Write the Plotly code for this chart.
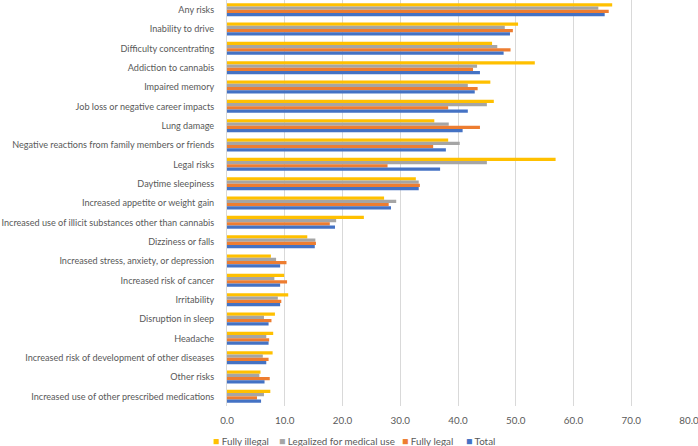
import plotly.graph_objects as go

categories = [
    "Any risks", "Inability to drive", "Difficulty concentrating", "Addiction to cannabis",
    "Impaired memory", "Job loss or negative career impacts", "Lung damage",
    "Negative reactions from family members or friends", "Legal risks", "Daytime sleepiness",
    "Increased appetite or weight gain", "Increased use of illicit substances other than cannabis",
    "Dizziness or falls", "Increased stress, anxiety, or depression", "Increased risk of cancer",
    "Irritability", "Disruption in sleep", "Headache",
    "Increased risk of development of other diseases", "Other risks",
    "Increased use of other prescribed medications",
]
fully_illegal = [66.7, 50.4, 45.9, 53.3, 45.6, 46.2, 35.9, 38.3, 56.9, 32.7, 27.2, 23.7, 13.9, 7.6, 9.9, 10.6, 8.3, 8.0, 7.9, 5.8, 7.5]
medical_use = [64.3, 48.1, 46.8, 43.3, 41.7, 45.0, 38.4, 40.3, 45.0, 33.2, 29.3, 18.9, 15.3, 8.5, 8.2, 8.8, 6.4, 6.8, 6.2, 5.6, 6.4]
fully_legal = [66.1, 49.5, 49.1, 42.6, 43.4, 38.3, 43.8, 35.7, 27.8, 33.4, 28.0, 17.8, 15.4, 10.3, 10.4, 9.4, 7.7, 7.3, 7.2, 7.4, 5.2]
total = [65.4, 49.0, 47.9, 43.8, 42.9, 41.7, 40.8, 37.9, 36.9, 33.2, 28.4, 18.7, 15.2, 9.2, 9.2, 9.2, 7.2, 7.2, 6.8, 6.5, 5.9]
x_ticks = [0, 10, 20, 30, 40, 50, 60, 70, 80]
series_names = ["Fully illegal", "Legalized for medical use", "Fully legal", "Total"]
series_colors = ["#FFC000", "#A5A5A5", "#ED7D31", "#4472C4"]
series_values = [fully_illegal, medical_use, fully_legal, total]

W, H = 698, 446
ML, MR, MT, MB = 227, 9, 0, 40
plot_w = W - ML - MR
plot_h = H - MT - MB

fig = go.Figure()
for name, vals, color in zip(series_names, series_values, series_colors):
    fig.add_trace(go.Bar(y=categories, x=vals, name=name, orientation="h",
                         marker=dict(color=color, line=dict(width=0))))

# custom compact legend (small square + label), positioned like the original
legend_left_px = [211, 277, 400, 464]
annotations = []
for name, color, px in zip(series_names, series_colors, legend_left_px):
    annotations.append(dict(
        xref="paper", yref="paper",
        x=(px - ML) / plot_w, y=-(441 - (H - MB)) / plot_h,
        xanchor="left", yanchor="middle", showarrow=False,
        text=f"<span style='color:{color};font-size:10.5px'>■</span> {name}",
        font=dict(family="Lato, sans-serif", size=9.8, color="#595959"),
    ))

fig.update_layout(
    width=W, height=H,
    margin=dict(l=ML, r=MR, t=MT, b=MB, autoexpand=False),
    barmode="group", bargap=0.33, bargroupgap=0,
    plot_bgcolor="white", paper_bgcolor="white",
    font=dict(family="Lato, sans-serif", size=9.8, color="#595959"),
    xaxis=dict(range=[0, 80], tickvals=x_ticks, tickformat=".1f", automargin=False,
               showgrid=True, gridcolor="#D9D9D9", gridwidth=1,
               zeroline=False, showline=False, ticks="", ticklabelstandoff=7,
               ticklabeloverflow="allow",
               tickfont=dict(family="Lato, sans-serif", size=9.8, color="#595959")),
    yaxis=dict(autorange="reversed", showgrid=False, showline=True, linecolor="#D9D9D9",
               automargin=False, ticks="", ticklabelstandoff=10,
               tickfont=dict(family="Lato, sans-serif", size=9.1, color="#595959")),
    showlegend=False,
    annotations=annotations,
)

fig.write_html("out.html", post_script="document.body.style.margin='0';",
               config={"displayModeBar": False})
